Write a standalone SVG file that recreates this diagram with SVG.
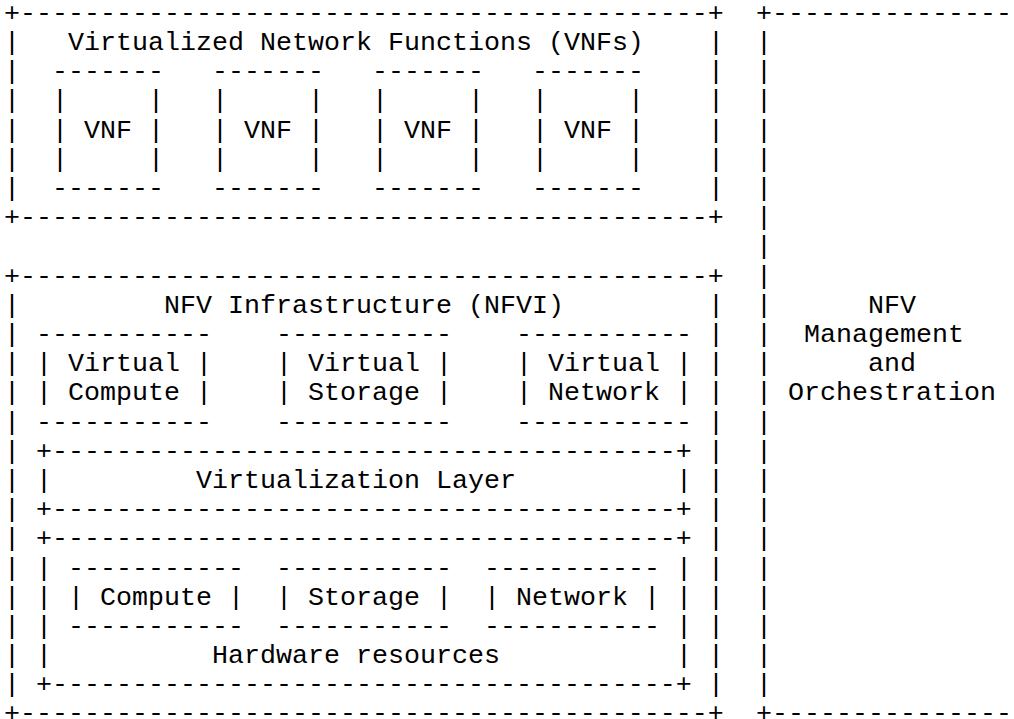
<svg xmlns="http://www.w3.org/2000/svg" width="1014" height="719" viewBox="0 0 1014 719">
<style>
text{font-family:"Liberation Mono","DejaVu Sans Mono",monospace;font-size:26.667px;fill:#000;white-space:pre}
</style>
<rect x="0" y="0" width="1014" height="719" fill="#fff"/>
<g id="vnf-layer">
<text x="4" y="20.8">+-------------------------------------------+</text>
<text x="4 4 4 4 4 4" y="50 79.2 108.4 137.6 166.8 196">||||||</text>
<text x="708 708 708 708 708 708" y="50 79.2 108.4 137.6 166.8 196">||||||</text>
<text x="4" y="225.2">+-------------------------------------------+</text>
<text x="68" y="50">Virtualized Network Functions (VNFs)</text>
</g>
<g id="vnf-1">
<text x="52" y="79.2">-------</text>
<text x="52 52 52" y="108.4 137.6 166.8">|||</text>
<text x="148 148 148" y="108.4 137.6 166.8">|||</text>
<text x="84" y="137.6">VNF</text>
<text x="52" y="196">-------</text>
</g>
<g id="vnf-2">
<text x="212" y="79.2">-------</text>
<text x="212 212 212" y="108.4 137.6 166.8">|||</text>
<text x="308 308 308" y="108.4 137.6 166.8">|||</text>
<text x="244" y="137.6">VNF</text>
<text x="212" y="196">-------</text>
</g>
<g id="vnf-3">
<text x="372" y="79.2">-------</text>
<text x="372 372 372" y="108.4 137.6 166.8">|||</text>
<text x="468 468 468" y="108.4 137.6 166.8">|||</text>
<text x="404" y="137.6">VNF</text>
<text x="372" y="196">-------</text>
</g>
<g id="vnf-4">
<text x="532" y="79.2">-------</text>
<text x="532 532 532" y="108.4 137.6 166.8">|||</text>
<text x="628 628 628" y="108.4 137.6 166.8">|||</text>
<text x="564" y="137.6">VNF</text>
<text x="532" y="196">-------</text>
</g>
<g id="nfvi">
<text x="4" y="283.6">+-------------------------------------------+</text>
<text x="4 4 4 4 4 4 4 4 4 4 4 4 4 4" y="312.8 342 371.2 400.4 429.6 458.8 488 517.2 546.4 575.6 604.8 634 663.2 692.4">||||||||||||||</text>
<text x="708 708 708 708 708 708 708 708 708 708 708 708 708 708" y="312.8 342 371.2 400.4 429.6 458.8 488 517.2 546.4 575.6 604.8 634 663.2 692.4">||||||||||||||</text>
<text x="4" y="720.6">+-------------------------------------------+</text>
<text x="164" y="312.8">NFV Infrastructure (NFVI)</text>
</g>
<g id="virtual-compute">
<text x="36" y="342">-----------</text>
<text x="36 36" y="371.2 400.4">||</text>
<text x="196 196" y="371.2 400.4">||</text>
<text x="68" y="371.2">Virtual</text>
<text x="68" y="400.4">Compute</text>
<text x="36" y="429.6">-----------</text>
</g>
<g id="virtual-storage">
<text x="276" y="342">-----------</text>
<text x="276 276" y="371.2 400.4">||</text>
<text x="436 436" y="371.2 400.4">||</text>
<text x="308" y="371.2">Virtual</text>
<text x="308" y="400.4">Storage</text>
<text x="276" y="429.6">-----------</text>
</g>
<g id="virtual-network">
<text x="516" y="342">-----------</text>
<text x="516 516" y="371.2 400.4">||</text>
<text x="676 676" y="371.2 400.4">||</text>
<text x="548" y="371.2">Virtual</text>
<text x="548" y="400.4">Network</text>
<text x="516" y="429.6">-----------</text>
</g>
<g id="virtualization-layer">
<text x="36" y="458.8">+---------------------------------------+</text>
<text x="36" y="488">|</text>
<text x="676" y="488">|</text>
<text x="196" y="488">Virtualization Layer</text>
<text x="36" y="517.2">+---------------------------------------+</text>
</g>
<g id="hardware-resources">
<text x="36" y="546.4">+---------------------------------------+</text>
<text x="36 36 36 36" y="575.6 604.8 634 663.2">||||</text>
<text x="676 676 676 676" y="575.6 604.8 634 663.2">||||</text>
<text x="212" y="663.2">Hardware resources</text>
<text x="36" y="692.4">+---------------------------------------+</text>
</g>
<g id="compute">
<text x="68" y="575.6">-----------</text>
<text x="68" y="604.8">|</text>
<text x="228" y="604.8">|</text>
<text x="100" y="604.8">Compute</text>
<text x="68" y="634">-----------</text>
</g>
<g id="storage">
<text x="276" y="575.6">-----------</text>
<text x="276" y="604.8">|</text>
<text x="436" y="604.8">|</text>
<text x="308" y="604.8">Storage</text>
<text x="276" y="634">-----------</text>
</g>
<g id="network">
<text x="484" y="575.6">-----------</text>
<text x="484" y="604.8">|</text>
<text x="644" y="604.8">|</text>
<text x="516" y="604.8">Network</text>
<text x="484" y="634">-----------</text>
</g>
<g id="mano">
<text x="756" y="20.8">+---------------</text>
<text x="756 756 756 756 756 756 756 756 756 756 756 756 756 756 756 756 756 756 756 756 756 756 756" y="50 79.2 108.4 137.6 166.8 196 225.2 254.4 283.6 312.8 342 371.2 400.4 429.6 458.8 488 517.2 546.4 575.6 604.8 634 663.2 692.4">|||||||||||||||||||||||</text>
<text x="756" y="720.6">+---------------</text>
<text x="868" y="312.8">NFV</text>
<text x="804" y="342">Management</text>
<text x="868" y="371.2">and</text>
<text x="788" y="400.4">Orchestration</text>
</g>
<g id="connectors"/>
</svg>
